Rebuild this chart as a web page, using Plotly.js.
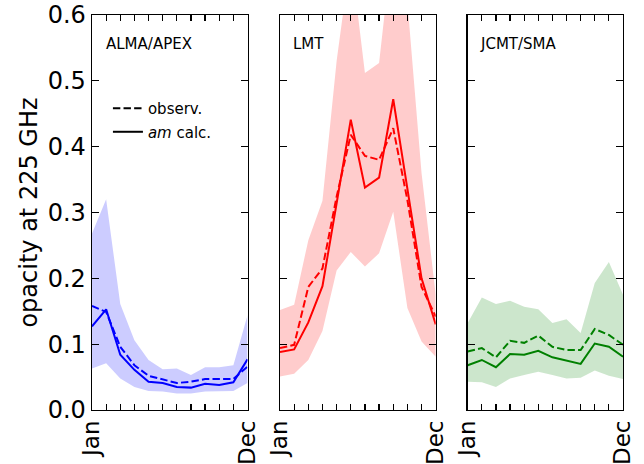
<!DOCTYPE html>
<html>
<head>
<meta charset="utf-8">
<script src="https://cdn.plot.ly/plotly-3.0.1.min.js"></script>
<style>html,body{margin:0;padding:0;background:#fff;}#chart{width:644px;height:464px;}</style>
</head>
<body>
<div id="chart"></div>
<script>
// Month positions and tick labels
const monthNums = [1, 2, 3, 4, 5, 6, 7, 8, 9, 10, 11, 12];
const monthTickText = ['Jan', '', '', '', '', '', '', '', '', '', '', 'Dec'];
const yTicks = [0.0, 0.1, 0.2, 0.3, 0.4, 0.5, 0.6];

// Panel names
const siteNames = ['ALMA/APEX', 'LMT', 'JCMT/SMA'];

// ALMA/APEX
const almaObs  = [0.158, 0.149, 0.096, 0.068, 0.052, 0.046, 0.041, 0.043, 0.047, 0.047, 0.047, 0.066];
const almaCalc = [0.127, 0.153, 0.084, 0.061, 0.043, 0.041, 0.035, 0.034, 0.040, 0.038, 0.042, 0.077];
const almaHi   = [0.268, 0.320, 0.161, 0.106, 0.076, 0.062, 0.063, 0.053, 0.065, 0.065, 0.068, 0.144];
const almaLo   = [0.063, 0.071, 0.048, 0.035, 0.029, 0.028, 0.025, 0.025, 0.028, 0.028, 0.029, 0.041];

// LMT
const lmtObs  = [0.094, 0.099, 0.187, 0.215, 0.324, 0.418, 0.386, 0.380, 0.428, 0.319, 0.187, 0.142];
const lmtCalc = [0.088, 0.092, 0.133, 0.188, 0.314, 0.441, 0.338, 0.353, 0.472, 0.334, 0.200, 0.130];
const lmtHi   = [0.152, 0.160, 0.258, 0.318, 0.530, 0.690, 0.512, 0.527, 0.720, 0.620, 0.360, 0.175];
const lmtLo   = [0.051, 0.055, 0.076, 0.120, 0.212, 0.240, 0.218, 0.238, 0.301, 0.155, 0.104, 0.081];

// JCMT/SMA
const jcmtObs  = [0.089, 0.094, 0.080, 0.105, 0.102, 0.113, 0.096, 0.091, 0.091, 0.123, 0.114, 0.099];
const jcmtCalc = [0.068, 0.076, 0.065, 0.085, 0.084, 0.090, 0.080, 0.075, 0.070, 0.101, 0.096, 0.081];
const jcmtHi   = [0.132, 0.171, 0.161, 0.166, 0.157, 0.153, 0.132, 0.138, 0.117, 0.193, 0.225, 0.175];
const jcmtLo   = [0.043, 0.042, 0.035, 0.048, 0.053, 0.058, 0.053, 0.048, 0.049, 0.060, 0.052, 0.047];

const FONT = 'DejaVu Sans, Liberation Sans, sans-serif';

const panels = [
  {obs: almaObs, calc: almaCalc, hi: almaHi, lo: almaLo, color: '#0000ff', band: 'rgba(0,0,255,0.2)', xa: 'x', ya: 'y'},
  {obs: lmtObs, calc: lmtCalc, hi: lmtHi, lo: lmtLo, color: '#ff0000', band: 'rgba(255,0,0,0.2)', xa: 'x2', ya: 'y2'},
  {obs: jcmtObs, calc: jcmtCalc, hi: jcmtHi, lo: jcmtLo, color: '#008000', band: 'rgba(0,128,0,0.2)', xa: 'x3', ya: 'y3'}
];

const traces = [];
panels.forEach(p => {
  traces.push({x: monthNums, y: p.lo, xaxis: p.xa, yaxis: p.ya, mode: 'lines',
    line: {width: 0, color: p.band}, showlegend: false, hoverinfo: 'skip'});
  traces.push({x: monthNums, y: p.hi, xaxis: p.xa, yaxis: p.ya, mode: 'lines', fill: 'tonexty',
    fillcolor: p.band, line: {width: 0, color: p.band}, showlegend: false, hoverinfo: 'skip'});
  traces.push({x: monthNums, y: p.obs, xaxis: p.xa, yaxis: p.ya, mode: 'lines',
    line: {width: 2, color: p.color, dash: '7.4px,3.2px'}, showlegend: false});
  traces.push({x: monthNums, y: p.calc, xaxis: p.xa, yaxis: p.ya, mode: 'lines',
    line: {width: 2, color: p.color}, showlegend: false});
});
// legend entries
traces.push({x: [null], y: [null], xaxis: 'x', yaxis: 'y', mode: 'lines', name: 'observ.',
  legendgroup: 'a', line: {width: 2, color: '#000', dash: '7.4px,3.2px'}});
traces.push({x: [null], y: [null], xaxis: 'x', yaxis: 'y', mode: 'lines', name: '<i>am</i> calc.',
  legendgroup: 'b', line: {width: 2, color: '#000'}});

const W = 531;
const doms = [[0, 155.5 / W], [188 / W, 343.7 / W], [375.7 / W, 1]];

function xax(i) {
  return {
    domain: doms[i], range: [1, 12], anchor: i === 0 ? 'y' : 'y' + (i + 1),
    tickmode: 'array', tickvals: monthNums, ticktext: monthTickText,
    ticks: 'inside', ticklen: 6, tickwidth: 1.2, tickcolor: '#000',
    tickangle: -90, tickfont: {family: FONT, size: 23, color: '#000'},
    showline: true, linecolor: '#000', linewidth: 1.3, mirror: 'ticks',
    showgrid: false, zeroline: false, fixedrange: true
  };
}
function yax(i) {
  return {
    domain: [0, 1], range: [0, 0.6], anchor: i === 0 ? 'x' : 'x' + (i + 1),
    tickmode: 'array', tickvals: yTicks, tickformat: '.1f',
    showticklabels: i === 0,
    ticks: 'inside', ticklen: 7, tickwidth: 1.2, tickcolor: '#000',
    tickfont: {family: FONT, size: 24, color: '#000'},
    showline: true, linecolor: '#000', linewidth: 1.3, mirror: 'ticks',
    showgrid: false, zeroline: false, fixedrange: true,
    title: i === 0 ? {text: 'opacity at 225 GHz', font: {family: FONT, size: 24, color: '#000'}, standoff: 3} : undefined
  };
}

const layout = {
  width: 644, height: 464,
  margin: {l: 92, r: 21, t: 15, b: 54, autoexpand: false},
  paper_bgcolor: '#fff', plot_bgcolor: '#fff',
  font: {family: FONT, color: '#000'},
  xaxis: xax(0), xaxis2: xax(1), xaxis3: xax(2),
  yaxis: yax(0), yaxis2: yax(1), yaxis3: yax(2),
  showlegend: true,
  legend: {x: 0.03, y: 0.805, xanchor: 'left', yanchor: 'top', bgcolor: 'rgba(0,0,0,0)',
    font: {family: FONT, size: 15, color: '#000'}, tracegroupgap: 1, traceorder: 'grouped'},
  annotations: siteNames.map((name, i) => ({
    text: name, xref: (i === 0 ? 'x' : 'x' + (i + 1)) + ' domain', yref: (i === 0 ? 'y' : 'y' + (i + 1)) + ' domain',
    x: [0.077, 0.071, 0.066][i], y: 0.927, xanchor: 'left', yanchor: 'middle', showarrow: false,
    font: {family: FONT, size: 15, color: '#000'}
  }))
};

Plotly.newPlot('chart', traces, layout, {staticPlot: true, displayModeBar: false});
</script>
</body>
</html>
